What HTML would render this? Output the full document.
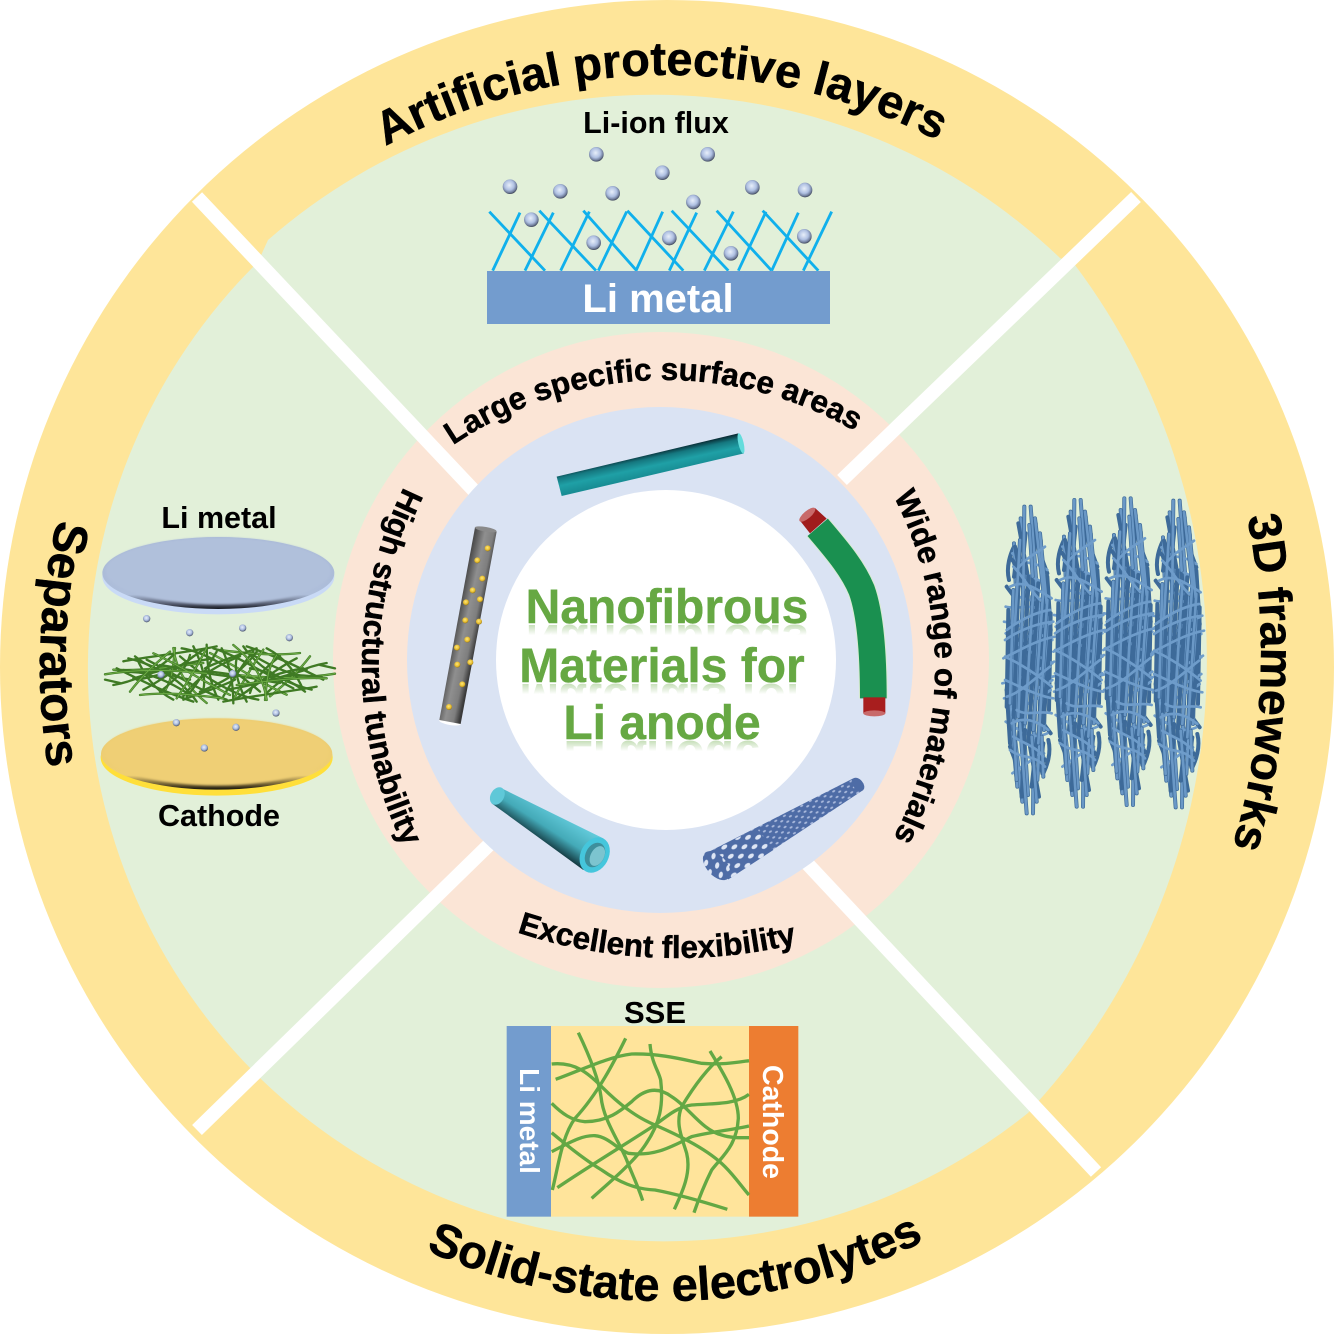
<!DOCTYPE html>
<html><head><meta charset="utf-8"><title>Nanofibrous Materials for Li anode</title>
<style>html,body{margin:0;padding:0;background:#fff}svg{display:block}text{font-family:"Liberation Sans",sans-serif;font-weight:bold}</style></head>
<body>
<svg width="1334" height="1334" viewBox="0 0 1334 1334" xmlns="http://www.w3.org/2000/svg">
<defs>
<radialGradient id="ball" cx="45%" cy="40%" r="60%"><stop offset="0" stop-color="#E8EFFA"/><stop offset=".55" stop-color="#AFC0E2"/><stop offset=".85" stop-color="#6F7C9A"/><stop offset="1" stop-color="#3F4658"/></radialGradient>
<radialGradient id="gold" cx="45%" cy="40%" r="60%"><stop offset="0" stop-color="#FFE97A"/><stop offset=".7" stop-color="#E5B92A"/><stop offset="1" stop-color="#8A7020"/></radialGradient>
<linearGradient id="discB" x1="0" y1="0" x2="0" y2="1"><stop offset="0" stop-color="#A8B8D6"/><stop offset=".8" stop-color="#AEBEDA"/><stop offset=".93" stop-color="#555C70"/><stop offset="1" stop-color="#15171E"/></linearGradient>
<linearGradient id="discY" x1="0" y1="0" x2="0" y2="1"><stop offset="0" stop-color="#EBCB70"/><stop offset=".8" stop-color="#EFCF74"/><stop offset=".93" stop-color="#6A5A30"/><stop offset="1" stop-color="#15140C"/></linearGradient>
<linearGradient id="teal" gradientUnits="userSpaceOnUse" x1="683" y1="100" x2="697" y2="165"><stop offset="0" stop-color="#082A32"/><stop offset=".25" stop-color="#15777F"/><stop offset=".6" stop-color="#1FA0A6"/><stop offset="1" stop-color="#188D94"/></linearGradient>
<linearGradient id="cyan" gradientUnits="userSpaceOnUse" x1="410" y1="1170" x2="345" y2="1270"><stop offset="0" stop-color="#62CADA"/><stop offset=".5" stop-color="#44AAB8"/><stop offset="1" stop-color="#06191E"/></linearGradient>
<linearGradient id="gray" gradientUnits="userSpaceOnUse" x1="110" y1="600" x2="180" y2="615"><stop offset="0" stop-color="#4E4E4E"/><stop offset=".4" stop-color="#8F8F8F"/><stop offset=".75" stop-color="#7E7E7E"/><stop offset="1" stop-color="#3A3A3A"/></linearGradient>
<linearGradient id="refl" x1="0" y1="0" x2="0" y2="1"><stop offset=".6" stop-color="#66A843" stop-opacity="0"/><stop offset=".81" stop-color="#66A843" stop-opacity=".4"/><stop offset="1" stop-color="#66A843" stop-opacity=".4"/></linearGradient>
<pattern id="mesh" width="30" height="20" patternUnits="userSpaceOnUse" patternTransform="rotate(-30)"><rect width="30" height="20" fill="#4E6CA6"/><ellipse cx="8" cy="5" rx="5" ry="3" fill="#A9B9DC"/><ellipse cx="23" cy="15" rx="5" ry="3" fill="#A9B9DC"/></pattern>
<pattern id="meshL" width="50" height="34" patternUnits="userSpaceOnUse" patternTransform="rotate(-35)"><rect width="50" height="34" fill="#4E6CA6"/><ellipse cx="13" cy="9" rx="10" ry="6" fill="#DDE5F4"/><ellipse cx="38" cy="26" rx="10" ry="6" fill="#DDE5F4"/></pattern>
<filter id="b4" x="-10%" y="-20%" width="120%" height="140%"><feGaussianBlur stdDeviation="3"/></filter>
<path id="pA" d="M667,1259 A592,592 0 1 1 667,75 A592,592 0 1 1 667,1259"/>
<path id="pS" d="M665,121 A590,590 0 1 0 665,1301 A590,590 0 1 0 665,121"/>
<path id="pSep" d="M1294,667 A627,627 0 1 0 40,667 A627,627 0 1 0 1294,667"/>
<path id="p3D" d="M-87,653 A674,674 0 1 1 1261,653 A674,674 0 1 1 -87,653"/>
<path id="pL" d="M665,1134 A377,377 0 1 1 665,380 A377,377 0 1 1 665,1134"/>
<path id="pE" d="M677,-62 A510,510 0 1 0 677,958 A510,510 0 1 0 677,-62"/>
<path id="pW" d="M189,667 A373,373 0 1 1 935,667 A373,373 0 1 1 189,667"/>
<path id="pH" d="M1176,667 A407,407 0 1 0 362,667 A407,407 0 1 0 1176,667"/>
<g id="clumpA" fill="none" stroke-linecap="round">
 <g stroke="#3D6A99" stroke-width="12">
  <path d="M103,50 L100,300M135,85 L160,300M118,105 L128,260M85,100 L112,250M90,150 L75,400M75,170 L100,300M150,130 L170,340M60,205 C80,215 75,240 72,260M50,290 L80,330"/>
  <path d="M55,360 L50,650M70,300 L60,640M85,290 L70,720M100,280 L85,680M115,260 L95,720M130,300 L105,700M145,280 L115,760M160,300 L130,720M172,330 L145,760M182,420 L160,700"/>
  <path d="M50,600 L60,760M70,690 L80,870M90,700 L110,970M105,720 L95,920M125,740 L140,935M140,750 L125,890M155,740 L160,860M175,750 C185,790 170,830 160,850M60,770 L75,810"/>
 </g>
 <g stroke="#6A98C6" stroke-width="8">
  <path d="M103,50 L100,300M135,85 L160,300M118,105 L128,260M90,150 L75,400M150,130 L170,340"/>
  <path d="M70,300 L60,640M100,280 L85,680M130,300 L105,700M160,300 L130,720M172,330 L145,760"/>
  <path d="M70,690 L80,870M90,700 L110,970M125,740 L140,935M155,740 L160,860"/>
 </g>
 <g stroke="#6E9CCA" stroke-width="8">
  <path d="M80,240 C110,200 140,190 165,170M60,290 C100,270 130,290 185,325M70,230 C100,260 120,300 150,330"/>
  <path d="M45,450 C90,420 140,400 190,395M50,420 C90,390 140,365 180,360M40,505 C90,480 140,450 195,440"/>
  <path d="M45,570 C90,590 150,620 190,625M45,500 C90,520 150,560 185,590M50,620 C90,610 140,560 180,530M80,660 C110,680 150,660 185,670"/>
  <path d="M65,700 C100,680 140,690 175,720M60,780 C100,810 130,790 165,830M70,740 C100,760 140,770 160,800"/>
 </g>
</g>
<g id="clump">
 <use href="#clumpA" transform="translate(232,1020) scale(-1,-1)"/>
 <use href="#clumpA"/>
</g>
<g id="matA" fill="none" stroke-linecap="round">
 <g stroke="#3F7A24" stroke-width="7">
  <path d="M45,538 C150,520 250,525 350,535M70,570 C130,560 200,530 250,480M115,490 C200,510 280,560 320,620M190,475 C250,500 340,560 420,600M275,460 C340,470 430,520 510,590M370,460 C440,480 530,540 610,580"/>
  <path d="M430,450 C480,490 520,540 530,615M530,460 C590,490 620,540 640,585M500,460 C450,480 380,500 345,520M350,458 C320,520 280,580 260,610M380,470 C350,520 320,570 290,605M620,490 C560,520 500,570 440,610"/>
  <path d="M690,510 L735,520M640,520 C580,530 520,545 470,590M710,550 C620,545 520,560 440,570M680,575 C600,590 500,600 400,620M150,600 C230,590 320,600 400,610M80,520 C160,560 220,590 310,620"/>
  <path d="M130,550 C200,530 300,500 370,490M240,470 C190,510 150,550 120,590M440,490 C430,530 450,580 470,620M560,480 C530,520 530,570 525,615M300,480 C290,520 250,560 210,590M600,540 C640,540 670,545 695,545"/>
  <path d="M100,525 C170,530 240,560 300,600M480,520 C540,530 610,560 645,590M210,510 C280,520 360,540 430,545M330,590 C380,570 450,540 500,470M395,460 C420,510 430,570 430,625"/>
 </g>
 <g stroke="#6FAE47" stroke-width="3">
  <path d="M45,538 C150,520 250,525 350,535M190,475 C250,500 340,560 420,600M430,450 C480,490 520,540 530,615M710,550 C620,545 520,560 440,570M350,458 C320,520 280,580 260,610M150,600 C230,590 320,600 400,610M560,480 C530,520 530,570 525,615M240,470 C190,510 150,550 120,590"/>
 </g>
</g>
</defs>

<circle cx="667" cy="667" r="667" fill="#FEE599"/>
<path d="M268,240 A586,586 0 0 1 1060,258 L1075,265 A660,660 0 0 1 1035,1105 L1028,1113 A581,581 0 0 1 262,1080 L252,1070 A572,572 0 0 1 258,262 Z" fill="#E2F0D9"/>
<circle cx="661" cy="660" r="328" fill="#FBE5D6"/>
<g stroke="#fff" stroke-width="14" fill="none">
 <path d="M197,197 L480,497M1136,197 L842,480M197,1130 L496,838M1096,1172 L802,858"/>
</g>
<circle cx="660" cy="660" r="253" fill="#DAE3F3"/>
<circle cx="666" cy="660" r="170" fill="#fff"/>

<!-- ring labels -->
<g fill="#000" stroke="#000" stroke-width=".5" text-anchor="middle">
<text font-size="47"><textPath href="#pA" startOffset="49.84%">Artificial protective layers</textPath></text>
<text font-size="47"><textPath href="#pS" startOffset="50.3%">Solid-state electrolytes</textPath></text>
<text font-size="48"><textPath href="#pSep" startOffset="49.4%">Separators</textPath></text>
<text font-size="46.5"><textPath href="#p3D" startOffset="50.7%">3D frameworks</textPath></text>
<text font-size="31.5"><textPath href="#pL" startOffset="49.45%">Large specific surface areas</textPath></text>
<text font-size="31.5"><textPath href="#pE" startOffset="49.35%">Excellent flexibility</textPath></text>
<text font-size="31.5"><textPath href="#pW" startOffset="50%">Wide range of materials</textPath></text>
<text font-size="31.5"><textPath href="#pH" startOffset="50%">High structural tunability</textPath></text>
</g>

<!-- top panel -->
<text x="656" y="133" font-size="30.5" text-anchor="middle" fill="#000">Li-ion flux</text>
<g transform="translate(470,100) scale(.33333)">
 <g stroke="#10B0EC" stroke-width="8.5" fill="none">
  <path d="M58,335L225,512M208,332L378,512M340,332L500,512M472,332L640,512M605,332L775,512M740,332L905,512M878,332L1045,512"/>
  <path d="M150,338L68,512M250,338L165,512M358,335L272,512M470,335L385,512M578,335L498,512M680,338L598,512M790,335L703,512M888,335L805,512M985,338L905,512M1085,335L1000,512"/>
 </g>
 <g fill="url(#ball)"><circle cx="120" cy="260" r="22"/><circle cx="271" cy="274" r="22"/><circle cx="428" cy="280" r="22"/><circle cx="379" cy="163" r="22"/><circle cx="577" cy="218" r="22"/><circle cx="713" cy="163" r="22"/><circle cx="670" cy="306" r="22"/><circle cx="847" cy="262" r="22"/><circle cx="1005" cy="270" r="22"/><circle cx="184" cy="359" r="22"/><circle cx="371" cy="428" r="22"/><circle cx="598" cy="414" r="22"/><circle cx="783" cy="460" r="22"/><circle cx="1003" cy="409" r="22"/></g>
</g>
<rect x="487" y="271" width="343" height="53" fill="#739CCE"/>
<text x="658" y="312" font-size="40" text-anchor="middle" fill="#fff">Li metal</text>

<!-- left panel -->
<text x="219" y="528" font-size="30.5" text-anchor="middle" fill="#000">Li metal</text>
<text x="219" y="826" font-size="30.5" text-anchor="middle" fill="#000">Cathode</text>
<g transform="translate(90,495) scale(.33333)">
 <ellipse cx="385" cy="245" rx="348" ry="113" fill="#C9DAF6"/>
 <ellipse cx="385" cy="234" rx="348" ry="108" fill="url(#discB)"/>
 <ellipse cx="385" cy="228" rx="338" ry="100" fill="#B0C0DB" filter="url(#b4)"/>
 <ellipse cx="380" cy="788" rx="348" ry="114" fill="#FFDF3A"/>
 <ellipse cx="380" cy="777" rx="347" ry="107" fill="url(#discY)"/>
 <ellipse cx="380" cy="771" rx="338" ry="100" fill="#EFCF74" filter="url(#b4)"/>
 <use href="#matA" transform="translate(780,1074) scale(-1,-1)"/>
 <use href="#matA"/>
 <g fill="url(#ball)"><circle cx="170" cy="371" r="11"/><circle cx="299" cy="413" r="11"/><circle cx="458" cy="399" r="11"/><circle cx="598" cy="428" r="11"/><circle cx="213" cy="539" r="11"/><circle cx="428" cy="536" r="11"/><circle cx="558" cy="654" r="11"/><circle cx="259" cy="683" r="11"/><circle cx="438" cy="697" r="11"/><circle cx="343" cy="759" r="11"/></g>
</g>

<!-- right panel -->
<g transform="translate(990,490) scale(.33333)">
 <use href="#clump"/>
 <use href="#clump" x="150" y="-20"/>
 <use href="#clump" x="300" y="-25"/>
 <use href="#clump" x="447" y="-18"/>
</g>

<!-- bottom panel -->
<text x="655" y="1023" font-size="31" text-anchor="middle" fill="#000">SSE</text>
<g transform="translate(495,990) scale(.33333)">
 <rect x="168" y="108" width="594" height="572" fill="#FFE49B"/>
 <rect x="35" y="108" width="133" height="572" fill="#739CCE"/>
 <rect x="762" y="108" width="148" height="572" fill="#ED7D31"/>
 <g fill="none" stroke="#63A844" stroke-width="10">
  <path d="M250,128 C275,180 310,260 318,320 C325,390 370,450 395,510 C410,550 430,590 443,632"/>
  <path d="M392,145 C360,210 310,310 240,385 C200,440 190,530 172,600"/>
  <path d="M170,222 C240,215 280,250 320,290 C370,340 420,380 480,405 C560,440 640,480 690,530 C720,560 740,590 762,615"/>
  <path d="M182,268 C260,240 340,200 410,192 C500,190 570,210 620,220 C680,225 720,218 762,212"/>
  <path d="M170,340 C200,370 230,392 270,395 C340,395 380,360 410,335 C450,295 490,290 530,320 C580,350 620,420 680,435 C710,445 740,443 762,443"/>
  <path d="M465,162 C470,220 490,240 497,270 C505,340 500,400 440,480 C400,530 340,580 290,625"/>
  <path d="M645,183 C680,240 730,320 730,385 C725,470 680,500 650,540 C625,590 610,630 597,668"/>
  <path d="M680,200 C630,240 590,300 560,350 C540,400 560,440 575,490 C590,550 560,610 538,658"/>
  <path d="M170,485 C220,460 260,435 300,437 C340,440 370,480 400,490 C480,500 530,470 590,440 C650,425 710,420 762,408"/>
  <path d="M170,428 C220,470 270,510 320,540 C370,575 420,598 480,600 C560,615 640,640 697,658"/>
  <path d="M187,593 C280,530 380,470 480,405 C520,375 550,350 590,345 C650,340 720,345 762,313"/>
 </g>
</g>
<text transform="translate(520,1121) rotate(90)" font-size="28" text-anchor="middle" fill="#fff">Li metal</text>
<text transform="translate(763,1122) rotate(90)" font-size="28.5" text-anchor="middle" fill="#fff">Cathode</text>

<!-- centre fibres -->
<g transform="translate(420,420) scale(.33333)">
 <polygon points="410,170 955,40 972,100 425,228" fill="url(#teal)"/>
 <ellipse cx="963" cy="70" rx="8" ry="31" transform="rotate(-13 963 70)" fill="#63DCDC"/>
 <path d="M1193,322 C1260,400 1300,450 1325,510 C1350,580 1360,700 1360,835" fill="none" stroke="#D8EBD0" stroke-width="86"/>
 <path d="M1193,322 C1260,400 1300,450 1325,510 C1350,580 1360,700 1360,835" fill="none" stroke="#1A9050" stroke-width="80"/>
 <polygon points="1140,302 1185,264 1220,296 1170,340" fill="#A01C1C"/>
 <ellipse cx="1162" cy="284" rx="30" ry="11" transform="rotate(-40 1162 284)" fill="#C86A6A"/>
 <rect x="1330" y="832" width="66" height="48" fill="#A81E1E"/>
 <ellipse cx="1363" cy="880" rx="33" ry="9" fill="#C86A6A"/>
 <polygon points="857,1300 1298,1076 1330,1110 925,1378" fill="url(#mesh)"/>
 <ellipse cx="1314" cy="1093" rx="15" ry="23" transform="rotate(-42 1314 1093)" fill="#4E6CA6"/>
 <polygon points="857,1300 1010,1225 1060,1290 925,1378" fill="url(#meshL)"/>
 <ellipse cx="890" cy="1337" rx="30" ry="52" transform="rotate(-42 890 1337)" fill="url(#meshL)"/>
 <polygon points="215,1150 245,1105 550,1255 490,1350" fill="url(#cyan)"/>
 <ellipse cx="232" cy="1128" rx="20" ry="28" transform="rotate(30 232 1128)" fill="#5FC8D8"/>
 <ellipse cx="524" cy="1305" rx="42" ry="56" transform="rotate(28 524 1305)" fill="#45C6DC"/>
 <ellipse cx="525" cy="1305" rx="28" ry="39" transform="rotate(28 525 1305)" fill="#3E8F9C"/>
 <ellipse cx="532" cy="1308" rx="20" ry="32" transform="rotate(28 532 1308)" fill="#7CC4CF"/>
 <ellipse cx="90" cy="906" rx="33" ry="9" transform="rotate(10 90 906)" fill="#fff"/>
 <polygon points="165,322 230,335 122,912 58,900" fill="url(#gray)"/>
 <ellipse cx="197" cy="328" rx="33" ry="7" transform="rotate(10 197 328)" fill="#8A8A8A"/>
 <g fill="url(#gold)"><circle cx="203" cy="385" r="9"/><circle cx="172" cy="421" r="9"/><circle cx="187" cy="476" r="9"/><circle cx="158" cy="511" r="9"/><circle cx="180" cy="538" r="9"/><circle cx="138" cy="547" r="9"/><circle cx="136" cy="601" r="9"/><circle cx="177" cy="605" r="9"/><circle cx="142" cy="659" r="9"/><circle cx="111" cy="683" r="9"/><circle cx="112" cy="734" r="9"/><circle cx="151" cy="727" r="9"/><circle cx="127" cy="793" r="9"/><circle cx="87" cy="861" r="9"/></g>
</g>

<!-- title -->
<g font-size="48" text-anchor="middle" fill="#66A843" stroke="#66A843" stroke-width=".4">
 <text x="667" y="623">Nanofibrous</text>
 <text x="662" y="682">Materials for</text>
 <text x="662" y="739">Li anode</text>
</g>
<g font-size="48" text-anchor="middle" fill="url(#refl)">
 <text transform="translate(667,625) scale(1,-1)">Nanofibrous</text>
 <text transform="translate(662,684) scale(1,-1)">Materials for</text>
 <text transform="translate(662,741) scale(1,-1)">Li anode</text>
</g>
</svg>
</body></html>
